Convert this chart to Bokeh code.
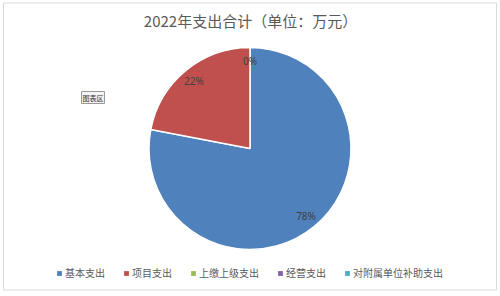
import math
from bokeh.plotting import figure
from bokeh.models import (ColumnDataSource, Range1d, Legend, LegendItem, Label,
                          CDSView, BooleanFilter)
from bokeh.embed import file_html
from bokeh.resources import INLINE

title = "2022年支出合计（单位：万元）"
categories = ["基本支出", "项目支出", "上缴上级支出", "经营支出", "对附属单位补助支出"]
values = [78.0, 22.0, 0.0, 0.0, 0.0]
pct_labels = ["78%", "22%", "0%", "", ""]
colors = ["#4F81BD", "#C0504D", "#9BBB59", "#8064A2", "#4BACC6"]

W, H = 500, 296
cx, cy, r = 249.5, H - 148, 101

total = sum(values)
starts, ends, lx, ly = [], [], [], []
cum = 0.0
for v in values:
    a0 = math.pi / 2 - 2 * math.pi * cum / total
    cum += v
    a1 = math.pi / 2 - 2 * math.pi * cum / total
    starts.append(a0)
    ends.append(a1)
    mid = (a0 + a1) / 2
    lx.append(cx + 0.87 * r * math.cos(mid))
    ly.append(cy + 0.87 * r * math.sin(mid))

src = ColumnDataSource(dict(cat=categories, val=values, start=starts, end=ends,
                            color=colors, lab=pct_labels, lx=lx, ly=ly))

p = figure(width=W, height=H, output_backend="svg", toolbar_location=None,
           x_range=Range1d(0, W), y_range=Range1d(0, H), min_border=0,
           background_fill_color="white", border_fill_color="white")
p.axis.visible = False
p.grid.visible = False
p.outline_line_color = None

# chart area frame
p.quad(left=[3], right=[496], bottom=[H - 289.5], top=[H - 2.5],
       fill_color=None, line_color="#D9D9D9", line_width=1)

view = CDSView(filter=BooleanFilter([v > 0 for v in values]))
p.wedge(x=cx, y=cy, radius=r, start_angle="start", end_angle="end",
        direction="clock", fill_color="color", line_color="white",
        line_width=1.5, source=src, view=view)

p.text(x="lx", y="ly", text="lab", source=src, text_align="center",
       text_baseline="middle", text_color="#404040", text_font_size="10px",
       text_font={"value": "Noto Sans"})

p.add_layout(Label(x=W / 2, y=H - 20, text=title, text_align="center",
                   text_baseline="middle", text_font_size="15px",
                   text_color="#595959", text_font="Noto Sans CJK SC"))

p.add_layout(Label(x=81, y=H - 97, text="图表区", text_align="left",
                   text_baseline="middle", text_font_size="7px",
                   text_color="#333333", text_font="Noto Sans CJK SC",
                   background_fill_color="#F4F4F4", border_line_color="#999999",
                   padding=1))

# legend proxies (drawn off-canvas, only used for legend swatches)
items = []
for c, col in zip(categories, colors):
    rr = p.quad(left=[-20], right=[-10], top=[-10], bottom=[-20],
                fill_color=col, line_color=None)
    items.append(LegendItem(label=c, renderers=[rr]))
legend = Legend(items=items, orientation="horizontal", location=(56, H - 280),
                glyph_width=6, glyph_height=6, label_standoff=3, spacing=18,
                padding=0, margin=0, background_fill_alpha=0, border_line_color=None,
                label_text_font_size="10px", label_text_color="#595959",
                label_text_font="Noto Sans CJK SC", label_height=12)
p.add_layout(legend, "center")

open("out.html", "w").write(file_html(p, INLINE))
